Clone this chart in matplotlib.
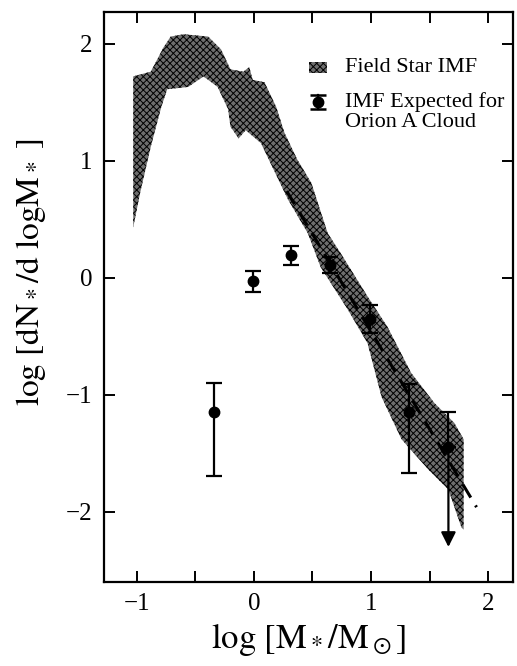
import numpy as np
import matplotlib
matplotlib.use("Agg")
import matplotlib.pyplot as plt
from matplotlib.patches import Rectangle

plt.rcParams['font.family'] = ['Liberation Serif', 'DejaVu Serif']
plt.rcParams['mathtext.fontset'] = 'stix'
plt.rcParams['hatch.linewidth'] = 0.7

# ---- field star IMF band (upper / lower edges) ----
band_up_x = [-1.03, -0.88, -0.77, -0.71, -0.60, -0.39, -0.28, -0.20, -0.09, -0.04,
             -0.01, 0.09, 0.19, 0.26, 0.37, 0.49, 0.63, 0.74, 0.97, 1.14,
             1.34, 1.54, 1.71, 1.79, 1.79, 1.79]
band_up_y = [1.72, 1.76, 1.97, 2.06, 2.08, 2.06, 1.95, 1.78, 1.76, 1.80,
             1.69, 1.67, 1.46, 1.24, 1.01, 0.81, 0.38, 0.21, -0.16, -0.42,
             -0.81, -1.07, -1.24, -1.38, -1.75, -2.15]
band_lo_x = [-1.03, -0.97, -0.88, -0.79, -0.74, -0.56, -0.43, -0.31, -0.22, -0.20,
             -0.13, -0.07, 0.06, 0.17, 0.29, 0.46, 0.57, 0.80, 0.97, 1.09,
             1.26, 1.49, 1.66, 1.77]
band_lo_y = [0.43, 0.73, 1.12, 1.46, 1.61, 1.63, 1.72, 1.63, 1.44, 1.29,
             1.19, 1.26, 1.15, 0.92, 0.67, 0.38, 0.09, -0.27, -0.56, -1.02,
             -1.38, -1.64, -1.81, -2.13]

# ---- IMF expected for Orion A cloud ----
orion_x = [-0.34, -0.01, 0.32, 0.65, 0.99, 1.32]
orion_y = [-1.15, -0.03, 0.19, 0.11, -0.35, -1.15]
orion_err_up = [0.25, 0.085, 0.08, 0.07, 0.12, 0.24]
orion_err_lo = [0.54, 0.095, 0.08, 0.07, 0.12, 0.52]

# upper limit point
lim_x = 1.66
lim_y = -1.45
lim_top = -1.15
lim_bottom = -2.30

# dashed power-law
dash_x = [0.28, 1.90]
dash_y = [0.74, -1.96]

band_face = '#6e6e6e'

fig = plt.figure(figsize=(5.17, 6.66), dpi=100)
ax = fig.add_axes([0.201, 0.126, 0.791, 0.856])

poly_x = band_up_x + band_lo_x[::-1]
poly_y = band_up_y + band_lo_y[::-1]
ax.fill(poly_x, poly_y, facecolor=band_face, edgecolor='black', hatch='xxxxx', lw=0)

ax.plot(dash_x, dash_y, color='black', lw=2.2, ls=(0, (5, 3)))

eb_kw = dict(fmt='o', color='black', ms=7.5, elinewidth=1.6, capsize=6, capthick=1.6)
ax.errorbar(orion_x, orion_y, yerr=[orion_err_lo, orion_err_up], **eb_kw)
ax.errorbar([lim_x], [lim_y], yerr=[[0], [lim_top - lim_y]], **eb_kw)
ax.annotate('', xy=(lim_x, lim_bottom), xytext=(lim_x, lim_y),
            arrowprops=dict(arrowstyle='-|>', color='black', lw=1.6,
                            mutation_scale=22, shrinkA=0, shrinkB=0))

ax.set_xlim(-1.28, 2.21)
ax.set_ylim(-2.6, 2.27)

ax.set_xticks([-1, 0, 1, 2])
ax.set_xticks([-0.5, 0.5, 1.5], minor=True)
ax.set_yticks([-2, -1, 0, 1, 2])
ax.tick_params(which='both', direction='in', top=True, right=True,
               length=8, width=1.4, labelsize=18, pad=8)
for s in ax.spines.values():
    s.set_linewidth(1.6)

ax.set_xlabel(r'$\mathrm{log\ [M_*/M_\odot]}$', fontsize=25, labelpad=4)
ax.set_ylabel(r'$\mathrm{log\ [dN_*/d\ logM_*\ ]}$', fontsize=24)
ax.yaxis.set_label_coords(-0.137, 0.544)

# legend drawn by hand (axes coordinates)
ax.add_patch(Rectangle((0.501, 0.893), 0.044, 0.019, transform=ax.transAxes,
                       facecolor=band_face, edgecolor='black', hatch='xxxxx', lw=0))
ax.text(0.589, 0.902, 'Field Star IMF', transform=ax.transAxes,
        fontsize=16, va='center', ha='left')
ax.plot([0.523, 0.523], [0.830, 0.854], transform=ax.transAxes, color='black', lw=1.6)
ax.plot([0.523, 0.523], [0.830, 0.854], transform=ax.transAxes, ls='none',
        marker='_', ms=12, mew=1.8, color='black')
ax.plot([0.523], [0.842], transform=ax.transAxes, marker='o', ms=7.5, color='black')
ax.text(0.589, 0.842, 'IMF Expected for', transform=ax.transAxes,
        fontsize=16, va='center', ha='left')
ax.text(0.589, 0.807, 'Orion A Cloud', transform=ax.transAxes,
        fontsize=16, va='center', ha='left')

fig.savefig('out.png', dpi=100)
